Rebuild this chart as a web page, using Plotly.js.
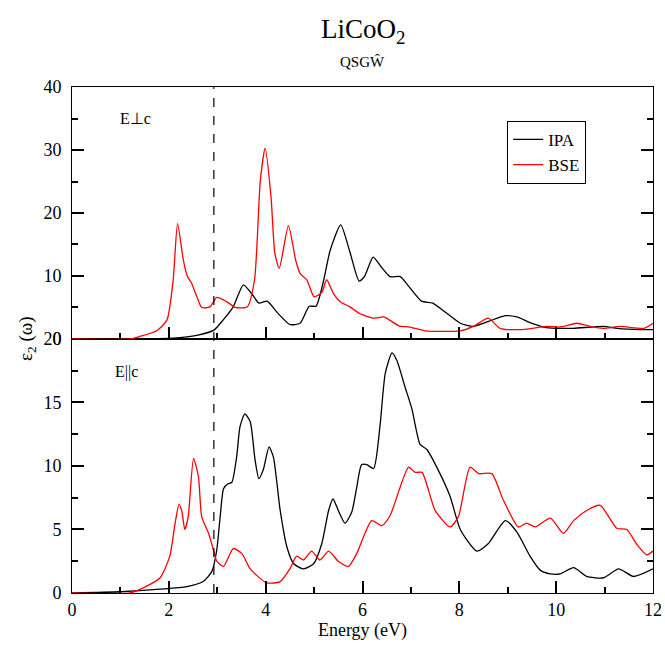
<!DOCTYPE html>
<html>
<head>
<meta charset="utf-8">
<script src="https://cdn.plot.ly/plotly-3.0.1.min.js"></script>
<style>html,body{margin:0;padding:0;background:#fff;}#chart{width:665px;height:645px;}</style>
</head>
<body>
<div id="chart"></div>
<script>
// ---- Data ----
// Top panel: E perpendicular to c
const perpIPA_E = [0, 1.0, 1.8, 2.33, 2.6, 2.93, 3.12, 3.33, 3.54, 3.72, 3.86, 4.03, 4.25, 4.50, 4.71, 4.90, 5.04, 5.20, 5.33, 5.55, 5.74, 5.93, 6.04, 6.22, 6.38, 6.57, 6.78, 6.96, 7.22, 7.45, 7.72, 8.02, 8.29, 8.57, 8.95, 9.19, 9.46, 9.74, 10.0, 10.36, 10.98, 11.26, 11.74, 12];
const perpIPA_V = [0, 0, 0.05, 0.3, 0.6, 1.4, 3.0, 5.1, 8.6, 7.1, 5.7, 6.0, 4.1, 2.3, 2.5, 5.2, 5.2, 9.4, 14.0, 18.1, 13.8, 9.2, 9.9, 13.0, 11.5, 9.9, 9.9, 8.3, 6.0, 5.7, 4.2, 2.5, 2.0, 2.7, 3.7, 3.5, 2.6, 1.9, 1.7, 1.7, 2.0, 1.7, 1.5, 1.5];

const perpBSE_E = [0, 1.2, 1.40, 1.75, 1.96, 2.09, 2.18, 2.30, 2.38, 2.46, 2.58, 2.68, 2.85, 2.99, 3.20, 3.37, 3.62, 3.77, 3.89, 3.99, 4.11, 4.19, 4.28, 4.47, 4.62, 4.71, 4.85, 5.00, 5.16, 5.26, 5.40, 5.54, 5.74, 5.95, 6.23, 6.44, 6.75, 6.98, 7.29, 8.02, 8.29, 8.60, 8.84, 9.30, 9.81, 10.08, 10.43, 10.70, 10.98, 11.33, 11.81, 12];
const perpBSE_V = [0, 0, 0.4, 1.3, 3.0, 9.4, 18.3, 12.5, 10.0, 9.0, 6.7, 5.0, 5.1, 6.6, 5.9, 5.0, 5.1, 9.4, 25.2, 30.3, 22.6, 13.6, 11.2, 18.0, 12.5, 10.4, 9.4, 6.7, 7.4, 9.4, 7.2, 5.9, 5.1, 4.0, 3.3, 3.5, 2.1, 1.9, 1.3, 1.3, 2.0, 3.3, 1.7, 1.5, 2.0, 1.9, 2.5, 2.0, 1.7, 2.0, 1.7, 2.5];

// Bottom panel: E parallel to c
const parIPA_E = [0, 1.0, 1.82, 2.37, 2.71, 2.89, 2.99, 3.06, 3.13, 3.22, 3.30, 3.40, 3.47, 3.57, 3.68, 3.78, 3.86, 3.95, 4.07, 4.16, 4.30, 4.44, 4.58, 4.77, 4.99, 5.16, 5.30, 5.39, 5.50, 5.64, 5.78, 5.88, 5.98, 6.09, 6.23, 6.36, 6.47, 6.61, 6.71, 6.88, 7.02, 7.19, 7.33, 7.60, 7.81, 8.02, 8.36, 8.60, 8.95, 9.19, 9.46, 9.67, 9.88, 10.08, 10.36, 10.63, 10.98, 11.29, 11.6, 12];
const parIPA_V = [0, 0.1, 0.3, 0.5, 0.9, 1.7, 3.4, 6.0, 8.2, 8.6, 8.7, 10.7, 13.1, 14.1, 13.5, 10.5, 9.0, 9.7, 11.5, 10.7, 6.5, 3.6, 2.3, 1.9, 2.3, 3.9, 6.5, 7.4, 6.5, 5.5, 6.4, 8.3, 10.1, 10.1, 9.8, 13.1, 17.3, 18.9, 18.3, 16.2, 14.5, 11.7, 11.3, 9.4, 7.6, 5.0, 3.3, 3.9, 5.7, 4.8, 2.9, 1.8, 1.5, 1.5, 2.0, 1.3, 1.2, 1.9, 1.3, 1.9];

const parBSE_E = [0, 1.2, 1.47, 1.82, 2.02, 2.13, 2.21, 2.27, 2.33, 2.40, 2.51, 2.61, 2.68, 2.82, 2.92, 2.99, 3.13, 3.33, 3.51, 3.68, 4.02, 4.30, 4.50, 4.64, 4.78, 4.95, 5.12, 5.30, 5.50, 5.71, 5.88, 6.19, 6.40, 6.57, 6.95, 7.09, 7.23, 7.50, 7.81, 7.98, 8.22, 8.40, 8.67, 8.91, 9.22, 9.39, 9.57, 9.88, 10.15, 10.36, 10.63, 10.91, 11.25, 11.46, 11.67, 11.87, 12];
const parBSE_V = [0, 0, 0.4, 1.2, 2.9, 5.5, 7.0, 6.4, 5.0, 6.0, 10.6, 9.2, 6.0, 4.7, 3.4, 2.5, 2.1, 3.5, 3.1, 1.9, 0.8, 0.9, 1.9, 2.9, 2.6, 3.3, 2.6, 3.3, 2.5, 2.1, 3.1, 5.7, 5.3, 6.1, 9.9, 9.5, 9.5, 6.5, 5.2, 6.0, 9.9, 9.4, 9.4, 7.3, 5.2, 5.5, 5.2, 5.9, 4.7, 5.7, 6.5, 6.9, 5.1, 5.0, 3.8, 3.0, 3.3];

// tick steps
const xTickStep = 2, xMinorStep = 1;
const topYTickStep = 10, topYMinorStep = 5;
const botYTickStep = 5, botYMinorStep = 2.5;
const gapEnergy = 2.93;

const FONT = '"Liberation Serif", "Times New Roman", serif';
const lineStyle = (c) => ({color: c, width: 1.3, shape: 'spline', smoothing: 0.6});

const traces = [
  {x: perpIPA_E, y: perpIPA_V, xaxis: 'x2', yaxis: 'y2', mode: 'lines', name: 'IPA', line: lineStyle('#000000')},
  {x: perpBSE_E, y: perpBSE_V, xaxis: 'x2', yaxis: 'y2', mode: 'lines', name: 'BSE', line: lineStyle('#ff0000')},
  {x: parIPA_E, y: parIPA_V, xaxis: 'x', yaxis: 'y', mode: 'lines', name: 'IPA', showlegend: false, line: lineStyle('#000000')},
  {x: parBSE_E, y: parBSE_V, xaxis: 'x', yaxis: 'y', mode: 'lines', name: 'BSE', showlegend: false, line: lineStyle('#ff0000')}
];

const axisCommon = {
  showgrid: false, zeroline: false, showline: true, linecolor: 'black', linewidth: 1,
  ticks: 'inside', ticklen: 12, tickwidth: 2, tickcolor: 'black', tickmode: 'linear', tick0: 0,
  tickfont: {family: FONT, size: 18, color: '#000'}
};
const minorOf = (step) => ({dtick: step, tick0: 0, ticks: 'inside', ticklen: 6, tickwidth: 2, tickcolor: 'black', showgrid: false});

const split = 0.502;
const layout = {
  width: 665, height: 645,
  margin: {l: 72, r: 12, t: 87, b: 52},
  paper_bgcolor: '#fff', plot_bgcolor: 'rgba(0,0,0,0)',
  font: {family: FONT, color: '#000'},
  showlegend: true,
  legend: {x: 0.749, y: 0.933, xanchor: 'left', yanchor: 'top', bordercolor: '#000', borderwidth: 1,
           bgcolor: '#fff', font: {family: FONT, size: 17, color: '#000'}, tracegroupgap: 0},
  xaxis: Object.assign({}, axisCommon, {
    range: [0, 12], domain: [0, 1], anchor: 'y', mirror: true, dtick: xTickStep,
    minor: minorOf(xMinorStep),
    title: {text: 'Energy (eV)', font: {family: FONT, size: 18, color: '#000'}, standoff: 4}
  }),
  yaxis: Object.assign({}, axisCommon, {
    range: [0, 20], domain: [0, split], anchor: 'x', mirror: 'ticks', dtick: botYTickStep,
    minor: minorOf(botYMinorStep), ticklabelstandoff: 6
  }),
  xaxis2: Object.assign({}, axisCommon, {
    range: [0, 12], domain: [0, 1], anchor: 'y2', mirror: true, showticklabels: false, dtick: xTickStep,
    minor: minorOf(xMinorStep)
  }),
  yaxis2: Object.assign({}, axisCommon, {
    range: [0.0001, 40], domain: [split, 1], anchor: 'x2', mirror: 'ticks', dtick: topYTickStep,
    minor: minorOf(topYMinorStep), ticklabelstandoff: 6
  }),
  shapes: [
    {type: 'line', xref: 'x', yref: 'paper', x0: gapEnergy, x1: gapEnergy, y0: 0, y1: 1,
     line: {color: '#000', width: 1.2, dash: 'dash'}}
  ],
  annotations: [
    {text: 'LiCoO<sub>2</sub>', xref: 'paper', yref: 'paper', x: 0.5, y: 1, yshift: 56, showarrow: false,
     font: {family: FONT, size: 27, color: '#000'}, yanchor: 'middle'},
    {text: 'QSGŴ', xref: 'paper', yref: 'paper', x: 0.5, y: 1, yshift: 25, showarrow: false,
     font: {family: FONT, size: 15, color: '#000'}, yanchor: 'middle'},
    {text: 'E⊥c', xref: 'x2', yref: 'y2', x: 0.95, y: 35, showarrow: false, xanchor: 'left',
     font: {family: FONT, size: 16, color: '#000'}},
    {text: 'E||c', xref: 'x', yref: 'y', x: 0.85, y: 17.4, showarrow: false, xanchor: 'left',
     font: {family: FONT, size: 16, color: '#000'}},
    {text: 'ε<sub>2</sub> (ω)', xref: 'paper', yref: 'paper', x: 0, xshift: -45, y: split, showarrow: false,
     xanchor: 'center', yanchor: 'middle', textangle: -90, font: {family: FONT, size: 19, color: '#000'}}
  ]
};

Plotly.newPlot('chart', traces, layout, {staticPlot: true, displayModeBar: false});
</script>
</body>
</html>
